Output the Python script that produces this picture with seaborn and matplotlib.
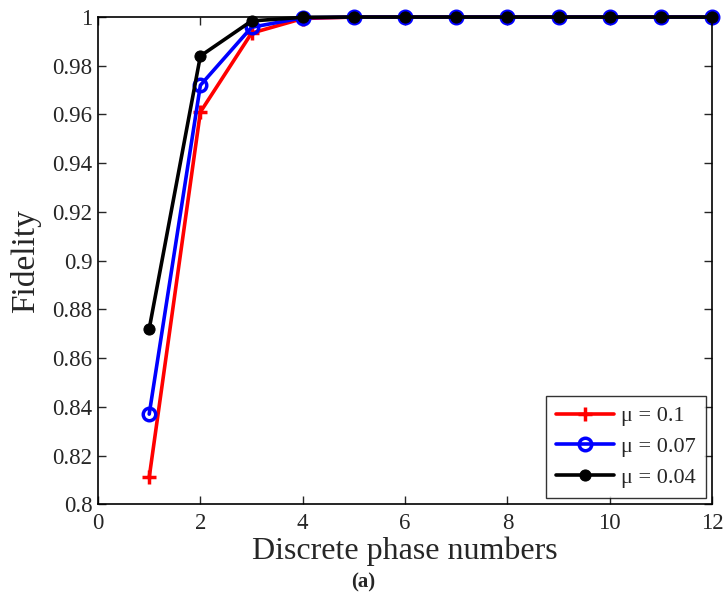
import numpy as np
import pandas as pd
import matplotlib
matplotlib.use('Agg')
import matplotlib.pyplot as plt
import seaborn as sns

# data
phase_numbers = [1, 2, 3, 4, 5, 6, 7, 8, 9, 10, 11, 12]
fid_mu_01 = [0.811, 0.961, 0.9934, 0.9994, 1.0, 1.0, 1.0, 1.0, 1.0, 1.0, 1.0, 1.0]
fid_mu_007 = [0.837, 0.972, 0.9958, 0.9997, 1.0, 1.0, 1.0, 1.0, 1.0, 1.0, 1.0, 1.0]
fid_mu_004 = [0.872, 0.984, 0.9984, 0.9999, 1.0, 1.0, 1.0, 1.0, 1.0, 1.0, 1.0, 1.0]
labels = ['μ = 0.1', 'μ = 0.07', 'μ = 0.04']

sns.set_style('ticks')
plt.rcParams['font.family'] = ['Liberation Serif', 'DejaVu Serif']
plt.rcParams['mathtext.fontset'] = 'stix'

fig = plt.figure(figsize=(7.26, 6.09), dpi=100)
ax = fig.add_axes([0.135, 0.172, 0.846, 0.800])

series = [
    (fid_mu_01, 'red', '+', dict(markersize=10, markeredgewidth=2.5)),
    (fid_mu_007, 'blue', 'o', dict(markersize=9, markerfacecolor='none', markeredgewidth=2.5)),
    (fid_mu_004, 'black', 'o', dict(markersize=8, markerfacecolor='black')),
]
for (vals, col, mk, kw), lab in zip(series, labels):
    df = pd.DataFrame({'x': phase_numbers, 'y': vals})
    sns.lineplot(data=df, x='x', y='y', ax=ax, color=col, marker=mk,
                 markeredgecolor=col, linewidth=2.6, label=lab, clip_on=False, **kw)

ax.set_xlim(0, 12)
ax.set_ylim(0.8, 1.0)
ax.set_xticks(np.arange(0, 13, 2))
ax.set_yticks(np.arange(0.8, 1.001, 0.02))
ax.set_xticklabels(['0', '2', '4', '6', '8', '10', '12'])
ax.set_yticklabels(['0.8', '0.82', '0.84', '0.86', '0.88', '0.9', '0.92',
                    '0.94', '0.96', '0.98', '1'])
ax.tick_params(direction='in', top=True, right=True, labelsize=16.5, length=6, width=1)
ax.tick_params(axis='x', pad=6)
ax.tick_params(axis='y', pad=4)
for s in ax.spines.values():
    s.set_visible(True)
    s.set_linewidth(1.2)
    s.set_color('black')

ax.set_xlabel('Discrete phase numbers', fontsize=23, labelpad=2)
ax.set_ylabel('Fidelity', fontsize=24, labelpad=8)

leg = ax.legend(loc='lower right', fontsize=16, frameon=True, fancybox=False,
                handlelength=2.6, borderpad=0.45, labelspacing=0.45,
                borderaxespad=0.3, handletextpad=0.3)
leg.get_frame().set_edgecolor('black')
leg.get_frame().set_linewidth(1.0)

fig.text(0.5, 0.035, '(a)', ha='center', fontsize=15, fontweight='bold')

fig.savefig('out.png', dpi=100)
